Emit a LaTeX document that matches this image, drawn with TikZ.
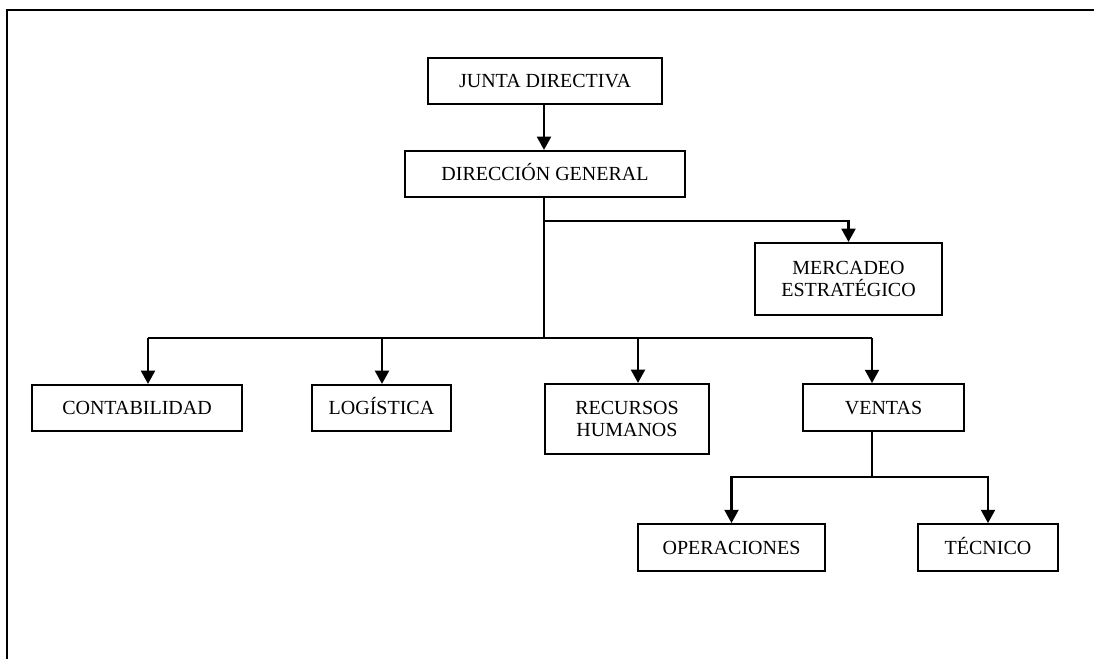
\documentclass[tikz,border=0pt]{standalone}
\usepackage{fontspec}
\setmainfont{Liberation Serif}
\usetikzlibrary{arrows.meta}
\begin{document}
\begin{tikzpicture}[x=0.75pt,y=-0.75pt,
  unit/.style={draw=black, line width=1.6pt, inner sep=0pt, align=center,
    minimum height=34.5pt, font=\fontsize{15}{16.7}\selectfont},
  oneline/.style={unit, text height=9.9pt, text depth=0pt},
  link/.style={line width=1.7pt},
  feed/.style={line width=1.7pt, -{Triangle[length=10pt,width=10.5pt]}}]
\useasboundingbox (0,0) rectangle (1095,659);
% open frame around the chart
\draw[line width=2.2pt] (7,659) -- (7,10) -- (1094,10);

% boxes
\node[oneline, minimum width=175.5pt] (junta) at (545,81) {JUNTA DIRECTIVA};
\node[oneline, minimum width=210pt] (dg) at (545,174) {DIRECCIÓN GENERAL};
\node[unit, minimum width=140pt, minimum height=54pt] (merc) at (848.5,279) {MERCADEO\\ESTRATÉGICO};
\node[oneline, minimum width=157.5pt] (cont) at (137,408) {CONTABILIDAD};
\node[oneline, minimum width=104pt] (log) at (381.5,408) {LOGÍSTICA};
\node[unit, minimum width=123pt, minimum height=52.5pt] (rrhh) at (627,419) {RECURSOS\\HUMANOS};
\node[oneline, minimum width=121pt, minimum height=35pt] (ventas) at (883.5,407.5) {VENTAS};
\node[oneline, minimum width=140pt, minimum height=35pt] (oper) at (731.5,547.5) {OPERACIONES};
\node[oneline, minimum width=105pt, minimum height=35pt] (tec) at (988,547.5) {TÉCNICO};

% junction points
\coordinate (tj) at (544,104);
\coordinate (tm) at (544,221);
\coordinate (bus) at (544,338);
\coordinate (dc) at (148,338);
\coordinate (dl) at (382,338);
\coordinate (dr) at (638,338);
\coordinate (dv) at (872,338);
\coordinate (vs) at (872,431);
\coordinate (vb) at (872,477);

% connectors
\draw[feed] (tj) -- (tj |- dg.north);
\draw[link] (tj |- dg.south) -- (bus);
\draw[feed] (tm) -| (merc.north);
\draw[link] (dc) -- (dv);
\draw[feed] (dc) -- (dc |- cont.north);
\draw[feed] (dl) -- (dl |- log.north);
\draw[feed] (dr) -- (dr |- rrhh.north);
\draw[feed] (dv) -- (dv |- ventas.north);
\draw[link] (vs) -- (vb);
\draw[feed] (vb) -| (oper.north);
\draw[feed] (vb) -| (tec.north);
\end{tikzpicture}
\end{document}
